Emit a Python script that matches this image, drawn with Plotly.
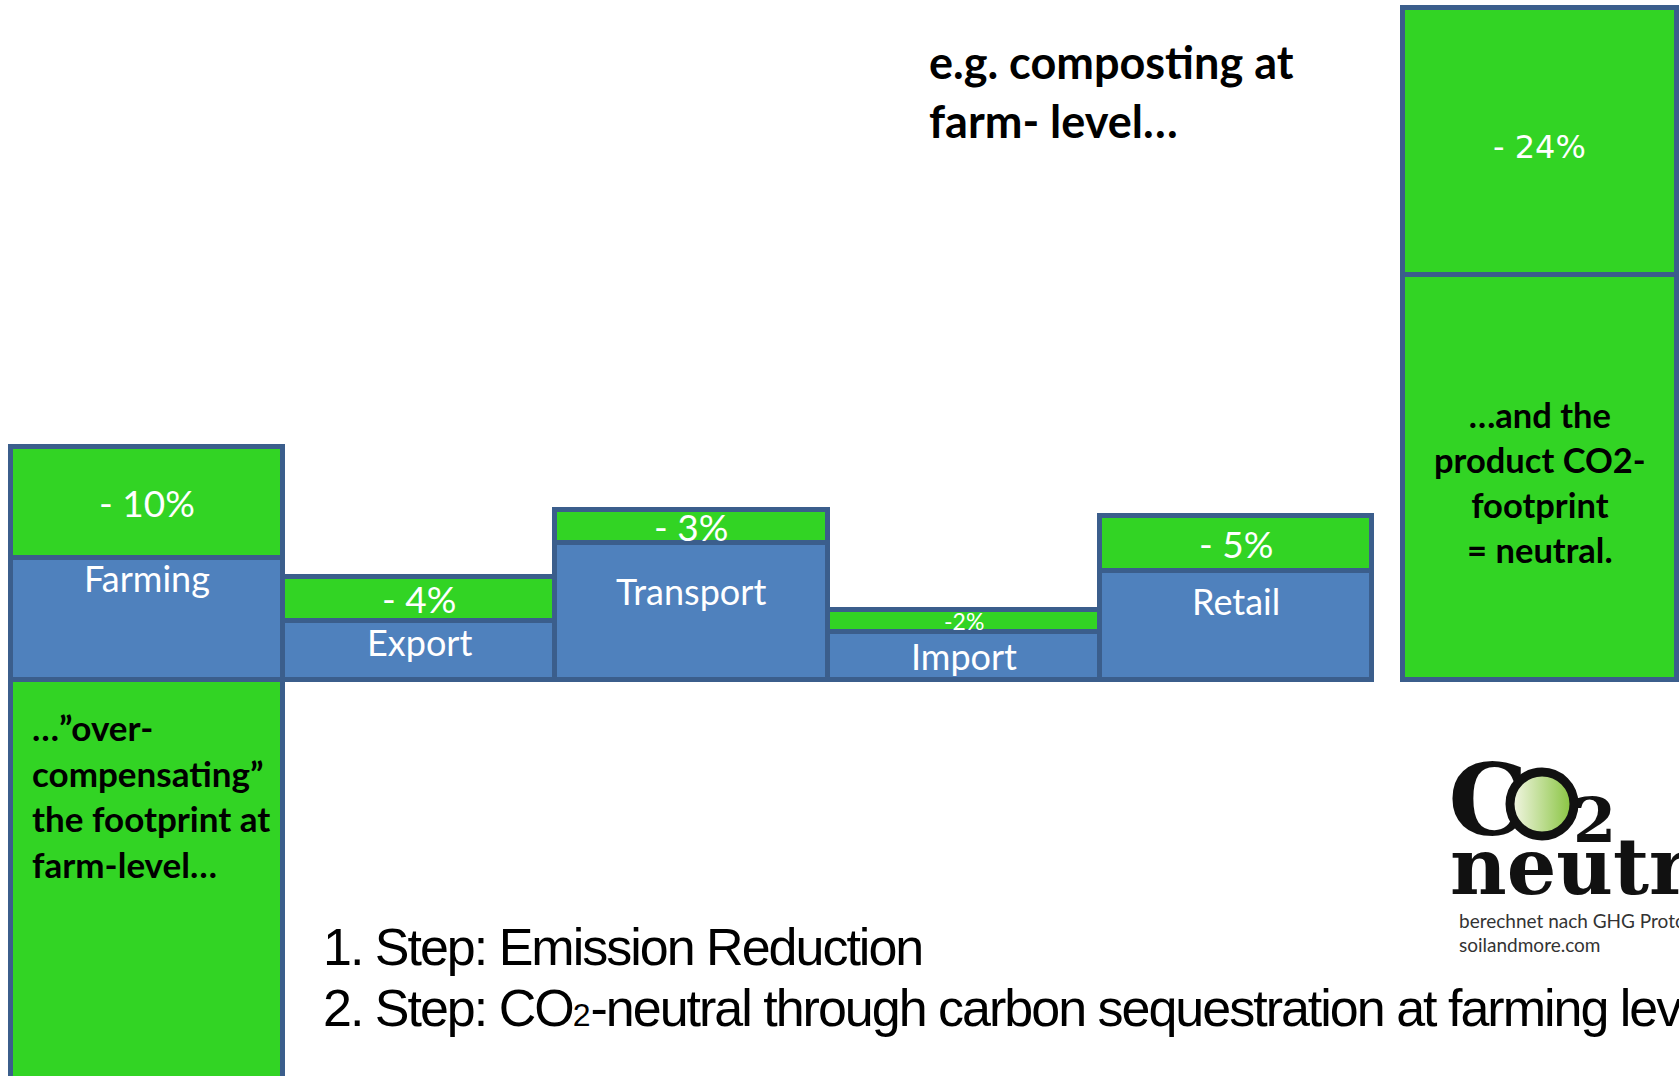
import plotly.graph_objects as go

# ---- data -------------------------------------------------------------
stages = ["Farming", "Export", "Transport", "Import", "Retail"]
emissions = [11.0, 5.3, 12.3, 4.3, 9.8]        # remaining footprint per stage
reductions = [10, 4, 3, 2, 5]                  # step 1: emission reduction (%)
compact_label = [False, False, False, True, False]
total_reduction = sum(reductions)              # -24 %
neutral_offset = 36.5                          # sequestered share on the total bar
farm_sequestration = -40.0                     # "over-compensation" below the baseline

# ---- canvas / scale ---------------------------------------------------
W, H = 1679, 1076
X0, XU = 146.8, 272.3       # px of first bar centre, px per bar slot
Y0, YU = 680.0, 11.1        # px of baseline, px per percentage point

BLUE = "#4F81BD"
GREEN = "#32D424"
EDGE = "#3B5E8C"

x_stage = list(range(len(stages)))
x_total = 5.116

def px(x):
    return x / W

def py(y):
    return 1 - y / H

fig = go.Figure()

edge = dict(color=EDGE, width=5)
fig.add_trace(go.Bar(x=x_stage, y=emissions, width=1, marker=dict(color=BLUE, line=edge),
                     name="Emissions", hoverinfo="skip"))
fig.add_trace(go.Bar(x=[x_total], y=[neutral_offset], width=1.006, marker=dict(color=GREEN, line=edge),
                     name="Sequestration", hoverinfo="skip"))
fig.add_trace(go.Bar(x=x_stage + [x_total], y=reductions + [total_reduction],
                     width=[1] * len(stages) + [1.006], marker=dict(color=GREEN, line=edge),
                     name="Reduction", hoverinfo="skip"))
fig.add_trace(go.Bar(x=[0], y=[farm_sequestration], width=1, marker=dict(color=GREEN, line=edge),
                     name="Farm sequestration", hoverinfo="skip"))

ann = []
LATO = "Lato"

# reduction labels, centred in the green segments
for i, (e, r, small) in enumerate(zip(emissions, reductions, compact_label)):
    txt = f"-{r}%" if small else f"- {r}%"
    ann.append(dict(x=x_stage[i], y=e + r / 2, xref="x", yref="y", text=txt, showarrow=False,
                    font=dict(family=LATO, size=23 if small else 37, color="white"),
                    xanchor="center", yanchor="middle"))
ann.append(dict(x=x_total, y=neutral_offset + total_reduction / 2, xref="x", yref="y",
                text=f"- {total_reduction}%", showarrow=False,
                font=dict(family="DejaVu Sans", size=32, color="white"),
                xanchor="center", yanchor="middle", yshift=-5))

# stage names just below each blue/green divider
name_drop = [20, 21, 48, 24, 30]
for i, (name, e) in enumerate(zip(stages, emissions)):
    ann.append(dict(x=x_stage[i], y=e, xref="x", yref="y", text=name, showarrow=False,
                    font=dict(family=LATO, size=36, color="white"),
                    xanchor="center", yanchor="middle", yshift=-name_drop[i]))

bold_black = lambda s: dict(family=LATO, size=s, color="black", weight="bold")

ann.append(dict(x=px(927), y=py(33), xref="paper", yref="paper",
                text="e.g. composting at<br>farm- level…", showarrow=False, align="left",
                font=bold_black(45), xanchor="left", yanchor="top"))
ann.append(dict(x=px(30), y=py(704), xref="paper", yref="paper",
                text="…”over-<br>compensating”<br>the footprint at<br>farm-level…",
                showarrow=False, align="left", font=bold_black(35), xanchor="left", yanchor="top"))
ann.append(dict(x=px(1540), y=py(392), xref="paper", yref="paper",
                text="…and the<br>product CO2-<br>footprint<br>= neutral.",
                showarrow=False, align="center", font=bold_black(34.5), xanchor="center", yanchor="top"))

# step captions (tight tracking keeps the long second line close to a narrow face)
SANS = "Liberation Sans Narrow, Arial Narrow, Liberation Sans"
tight = "<span style='letter-spacing:-2px'>{}</span>"
ann.append(dict(x=px(321), y=py(947), xref="paper", yref="paper",
                text=tight.format("1. Step: Emission Reduction"), showarrow=False,
                font=dict(family=SANS, size=52, color="black"), xanchor="left", yanchor="middle"))
ann.append(dict(x=px(321), y=py(1008), xref="paper", yref="paper",
                text=tight.format("2. Step: CO") + "<span style='font-size:32px'>2</span>"
                     + tight.format("-neutral through carbon sequestration at farming level"),
                showarrow=False, font=dict(family=SANS, size=52, color="black"),
                xanchor="left", yanchor="middle"))

# ---- CO2 neutral logo -------------------------------------------------
SERIF = "DejaVu Serif"
fig.add_trace(go.Scatter(x=[1488], y=[810], mode="text", text=["C"], xaxis="x2", yaxis="y2",
                         textfont=dict(family=SERIF, size=100, color="#111111", weight="bold"),
                         textposition="middle center", hoverinfo="skip"))
fig.add_trace(go.Scatter(x=[1542], y=[804], mode="markers", xaxis="x2", yaxis="y2",
                         marker=dict(size=64, color="#f7f8ea",
                                     gradient=dict(type="horizontal", color="#84c23a"),
                                     line=dict(color="#111111", width=9)),
                         hoverinfo="skip"))
ann.append(dict(x=px(1594), y=py(820), xref="paper", yref="paper", text="2", showarrow=False,
                font=dict(family=SERIF, size=62, color="#111111", weight="bold"),
                xanchor="center", yanchor="middle"))
ann.append(dict(x=px(1448), y=py(866), xref="paper", yref="paper", text="neutral", showarrow=False,
                font=dict(family=SERIF, size=78, color="#111111", weight="bold"),
                xanchor="left", yanchor="middle"))
ann.append(dict(x=px(1457), y=py(920), xref="paper", yref="paper", text="berechnet nach GHG Protokoll",
                showarrow=False, font=dict(family=LATO, size=19, color="#333333"),
                xanchor="left", yanchor="middle"))
ann.append(dict(x=px(1457), y=py(944), xref="paper", yref="paper", text="soilandmore.com",
                showarrow=False, font=dict(family=LATO, size=19, color="#333333"),
                xanchor="left", yanchor="middle"))

hidden = dict(visible=False, showgrid=False, zeroline=False, fixedrange=True)
fig.update_layout(
    width=W, height=H,
    margin=dict(l=0, r=0, t=0, b=0),
    paper_bgcolor="white", plot_bgcolor="white",
    barmode="relative", bargap=0, showlegend=False,
    xaxis=dict(range=[-X0 / XU, (W - X0) / XU], **hidden),
    yaxis=dict(range=[-(H - Y0) / YU, Y0 / YU], **hidden),
    xaxis2=dict(range=[0, W], overlaying="x", **hidden),
    yaxis2=dict(range=[H, 0], overlaying="y", **hidden),
    annotations=ann,
)

fig.write_html("out.html")
